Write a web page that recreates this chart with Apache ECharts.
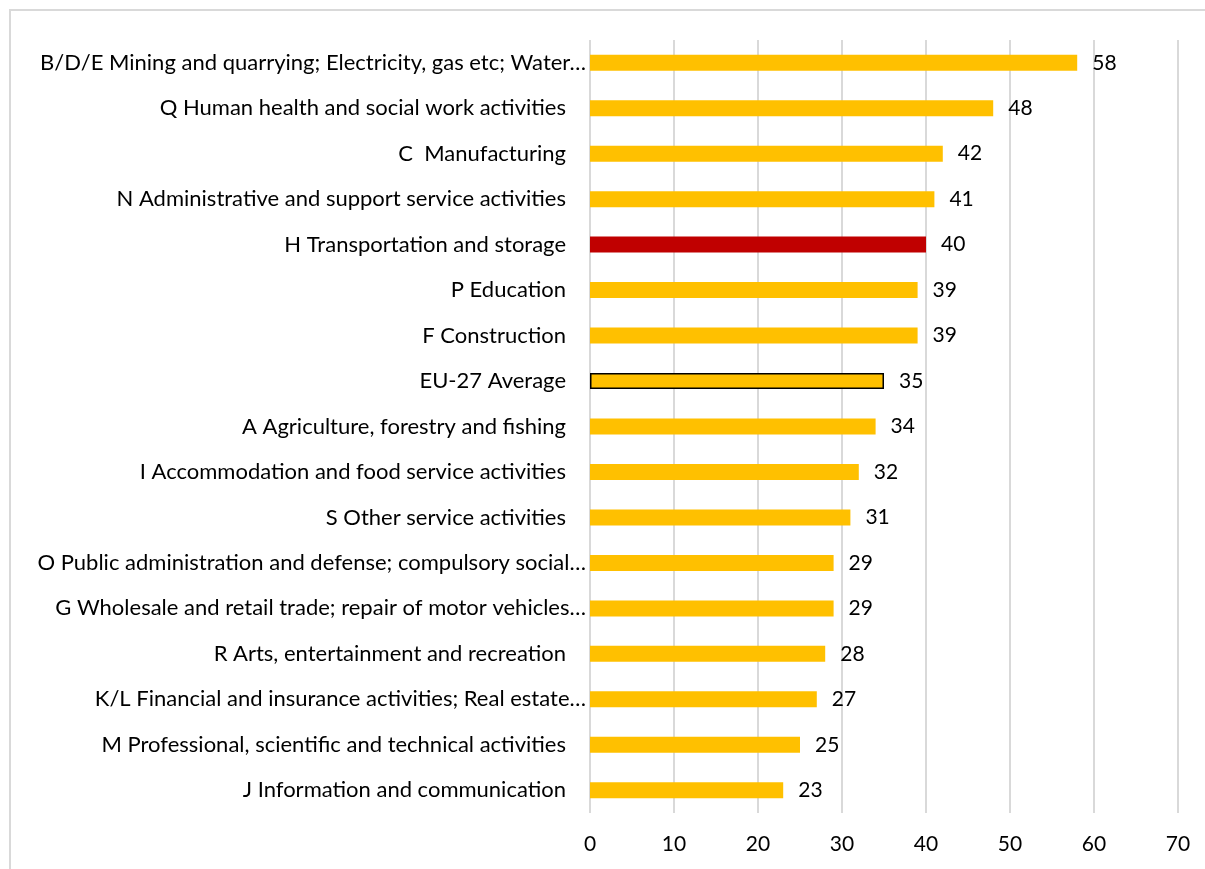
<!DOCTYPE html>
<html>
<head>
<meta charset="utf-8">
<script src="https://cdn.jsdelivr.net/npm/echarts@6/dist/echarts.min.js"></script>
<style>
  html, body { margin: 0; padding: 0; background: #fff; }
  #chart { width: 1205px; height: 869px; }
</style>
</head>
<body>
<div id="chart"></div>
<script>
// Sectors, listed top to bottom
const sectors = [
  'B/D/E Mining and quarrying; Electricity, gas etc; Water…',
  'Q Human health and social work activities',
  'C  Manufacturing',
  'N Administrative and support service activities',
  'H Transportation and storage',
  'P Education',
  'F Construction',
  'EU-27 Average',
  'A Agriculture, forestry and fishing',
  'I Accommodation and food service activities',
  'S Other service activities',
  'O Public administration and defense; compulsory social…',
  'G Wholesale and retail trade; repair of motor vehicles…',
  'R Arts, entertainment and recreation',
  'K/L Financial and insurance activities; Real estate…',
  'M Professional, scientific and technical activities',
  'J Information and communication'
];
const values = [58, 48, 42, 41, 40, 39, 39, 35, 34, 32, 31, 29, 29, 28, 27, 25, 23];
const highlightSector = 'H Transportation and storage';
const averageSector = 'EU-27 Average';
const xTicks = [0, 10, 20, 30, 40, 50, 60, 70];

const FONT = 'Lato';
const FONT_SIZE = 22;
const YELLOW = '#FFC000';
const RED = '#C00000';

const barData = values.map((v, i) => {
  const name = sectors[i];
  const item = { value: v, itemStyle: { color: YELLOW } };
  if (name === highlightSector) item.itemStyle = { color: RED };
  if (name === averageSector) item.itemStyle = { color: YELLOW, borderColor: '#000', borderWidth: 1.5 };
  return item;
});

const chart = echarts.init(document.getElementById('chart'), null, { renderer: 'canvas' });
chart.setOption({
  animation: false,
  backgroundColor: '#fff',
  textStyle: { fontFamily: FONT },
  graphic: [{
    type: 'rect',
    shape: { x: 10, y: 10, width: 1400, height: 1000 },
    style: { fill: 'none', stroke: '#d9d9d9', lineWidth: 2 },
    silent: true
  }],
  grid: { left: 590, right: 27, top: 40, bottom: 56, containLabel: false },
  xAxis: {
    type: 'value',
    min: xTicks[0],
    max: xTicks[xTicks.length - 1],
    interval: 10,
    axisLine: { show: false },
    axisTick: { show: false },
    splitLine: { show: true, lineStyle: { color: '#d9d9d9', width: 2 } },
    axisLabel: { color: '#000', fontSize: FONT_SIZE - 1, fontFamily: FONT, margin: 21 }
  },
  yAxis: {
    type: 'category',
    data: sectors,
    inverse: true,
    axisLine: { show: false },
    axisTick: { show: false },
    axisLabel: {
      color: '#000',
      fontSize: FONT_SIZE,
      fontFamily: FONT,
      margin: 4,
      // shortened names (ending in an ellipsis) sit closer to the axis
      formatter: (name) => name.endsWith('…') ? '{cut|' + name + '}' : '{full|' + name + '}',
      rich: {
        cut: { fontSize: FONT_SIZE, fontFamily: FONT, color: '#000' },
        full: { fontSize: FONT_SIZE, fontFamily: FONT, color: '#000', padding: [0, 20, 0, 0] }
      }
    }
  },
  series: [{
    type: 'bar',
    data: barData,
    barWidth: 16,
    label: {
      show: true,
      position: 'right',
      distance: 15,
      color: '#000',
      fontSize: FONT_SIZE - 1,
      fontFamily: FONT
    }
  }]
});
</script>
</body>
</html>
